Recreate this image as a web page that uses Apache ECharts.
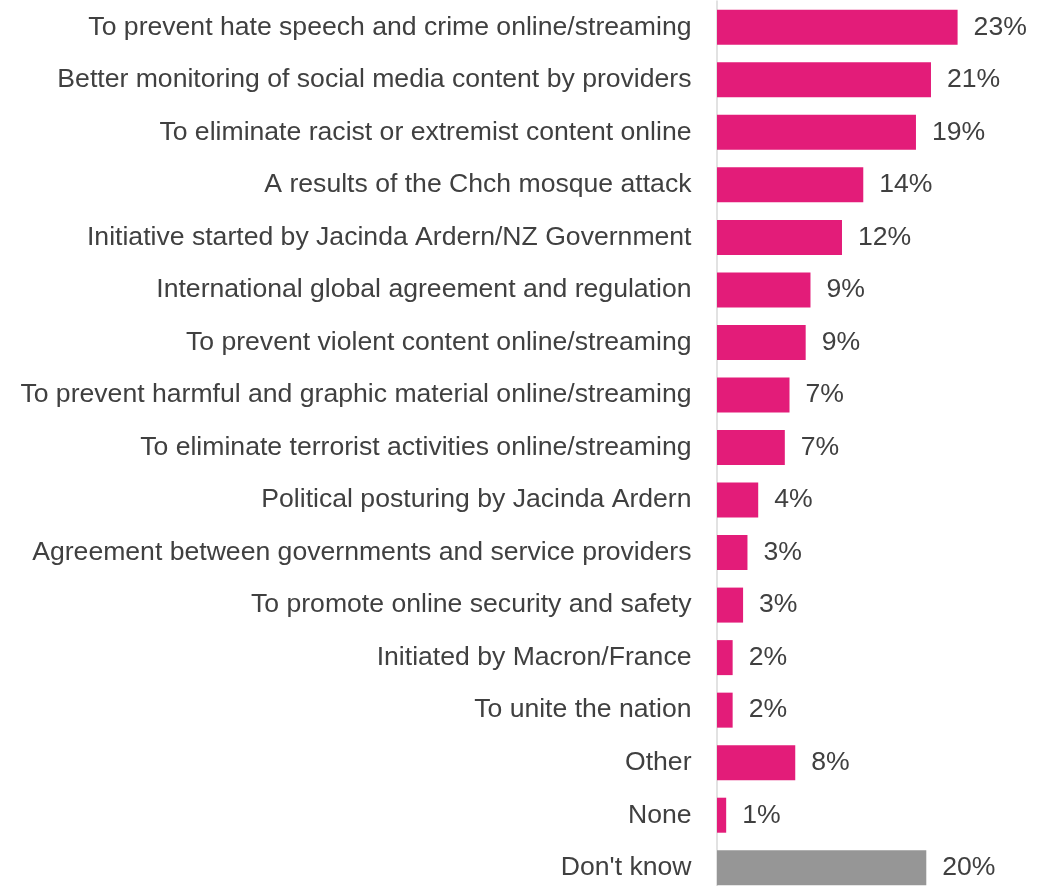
<!DOCTYPE html>
<html>
<head>
<meta charset="utf-8">
<style>
  html, body { margin: 0; padding: 0; background: #ffffff; overflow: hidden; }
  #chart { width: 1038px; height: 896px; }
</style>
<script src="https://cdn.jsdelivr.net/npm/echarts@6/dist/echarts.min.js"></script>
</head>
<body>
<div id="chart"></div>
<script>
// Reasons given for the Christchurch Call (share of respondents, %)
const categories = [
  "To prevent hate speech and crime online/streaming",
  "Better monitoring of social media content by providers",
  "To eliminate racist or extremist content online",
  "A results of the Chch mosque attack",
  "Initiative started by Jacinda Ardern/NZ Government",
  "International global agreement and regulation",
  "To prevent violent content online/streaming",
  "To prevent harmful and graphic material online/streaming",
  "To eliminate terrorist activities online/streaming",
  "Political posturing by Jacinda Ardern",
  "Agreement between governments and service providers",
  "To promote online security and safety",
  "Initiated by Macron/France",
  "To unite the nation",
  "Other",
  "None",
  "Don't know"
];
const values = [23.06, 20.51, 19.07, 14.02, 11.98, 8.96, 8.5, 6.95, 6.5, 3.95, 2.92, 2.5, 1.5, 1.5, 7.5, 0.88, 20.06];
// Categories drawn in the neutral colour instead of the brand pink
const neutralCategories = ["Don't know"];

const PINK = '#E31C79';
const GREY = '#969696';
const TEXT = '#404040';
const FONT = '"Liberation Sans", Arial, Helvetica, sans-serif';

const barData = values.map((v, i) => ({
  value: v,
  itemStyle: { color: neutralCategories.includes(categories[i]) ? GREY : PINK }
}));

const chart = echarts.init(document.getElementById('chart'), null, { renderer: 'canvas' });
chart.setOption({
  animation: false,
  backgroundColor: '#ffffff',
  grid: { left: 717, top: 1, width: 313, height: 893, containLabel: false },
  xAxis: {
    type: 'value',
    min: 0,
    max: 30,
    show: false
  },
  yAxis: {
    type: 'category',
    data: categories,
    inverse: true,
    offset: 1.5,
    axisLine: { show: true, lineStyle: { color: '#d9d9d9', width: 1.5 } },
    axisTick: { show: false },
    splitLine: { show: false },
    axisLabel: {
      margin: 24,
      color: TEXT,
      fontSize: 26.6,
      fontFamily: FONT,
      padding: [3, 0, 0, 0]
    }
  },
  series: [{
    type: 'bar',
    data: barData,
    barWidth: 35,
    label: {
      show: true,
      position: 'right',
      distance: 16,
      color: TEXT,
      fontSize: 26.6,
      fontFamily: FONT,
      padding: [3, 0, 0, 0],
      formatter: p => Math.round(p.value) + '%'
    }
  }]
});
</script>
</body>
</html>
